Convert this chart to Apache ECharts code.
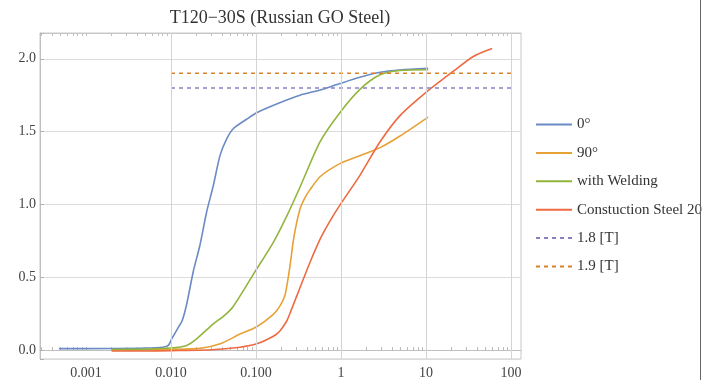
<!DOCTYPE html>
<html>
<head>
<meta charset="utf-8">
<script src="https://cdn.jsdelivr.net/npm/echarts@6/dist/echarts.min.js"></script>
<style>html,body{margin:0;padding:0;background:#fff;}#c{width:702px;height:380px;}</style>
</head>
<body>
<div id="c"></div>
<script>
const titleText = 'T120\u221230S (Russian GO Steel)';
const seriesNames = ['0°', '90°', 'with Welding', 'Constuction Steel 20', '1.8 [T]', '1.9 [T]'];

const blueX = [0.00048, 0.002, 0.005, 0.008, 0.0093, 0.0102, 0.0122, 0.0135, 0.0153, 0.0183, 0.0219, 0.0263, 0.0315, 0.0377, 0.0452, 0.054, 0.0776, 0.102, 0.175, 0.33, 0.566, 0.97, 1.67, 2.88, 4.94, 10.6];
const blueY = [0.010, 0.011, 0.014, 0.020, 0.032, 0.077, 0.156, 0.20, 0.315, 0.54, 0.72, 0.95, 1.13, 1.335, 1.45, 1.52, 1.585, 1.63, 1.69, 1.75, 1.785, 1.83, 1.873, 1.907, 1.923, 1.934];

const orangeX = [0.002, 0.005, 0.01, 0.022, 0.038, 0.065, 0.102, 0.16, 0.19, 0.22, 0.25, 0.28, 0.33, 0.38, 0.43, 0.566, 0.97, 1.67, 2.88, 4.94, 10.6];
const orangeY = [0.0, 0.002, 0.005, 0.012, 0.043, 0.11, 0.16, 0.245, 0.30, 0.38, 0.57, 0.78, 0.97, 1.05, 1.10, 1.19, 1.28, 1.335, 1.39, 1.47, 1.6];

const greenX = [0.002, 0.005, 0.01, 0.0153, 0.02, 0.0315, 0.042, 0.054, 0.093, 0.16, 0.23, 0.33, 0.566, 0.97, 1.67, 2.88, 4.94, 10.6];
const greenY = [0.004, 0.007, 0.014, 0.032, 0.077, 0.18, 0.235, 0.30, 0.52, 0.74, 0.92, 1.12, 1.43, 1.63, 1.79, 1.89, 1.92, 1.925];

const redX = [0.002, 0.005, 0.01, 0.03, 0.065, 0.102, 0.16, 0.19, 0.23, 0.25, 0.33, 0.43, 0.566, 0.75, 0.97, 1.67, 2.88, 4.94, 10, 21, 36, 60];
const redY = [-0.006, -0.006, -0.004, 0.002, 0.02, 0.043, 0.095, 0.13, 0.2, 0.25, 0.43, 0.60, 0.76, 0.89, 0.995, 1.2, 1.43, 1.61, 1.77, 1.915, 2.016, 2.07];

const refX = [0.01, 100];
const ref18 = [1.8, 1.8];
const ref19 = [1.9, 1.9];

const xTickValues = [0.001, 0.01, 0.1, 1, 10, 100];
const xTickLabels = ['0.001', '0.010', '0.100', '1', '10', '100'];
const xGridValues = [0.01, 0.1, 1, 10, 100];
const minorMultipliers = [2, 3, 4, 5, 6, 7, 8, 9];
const tickDecades = [0.0001, 0.001, 0.01, 0.1, 1, 10, 100];

const colors = ['#6A8BC4', '#E6A237', '#93B53E', '#EE6A42', '#8A80C4', '#D9822B'];

function pairs(xs, ys) { return xs.map((x, i) => [x, ys[i]]); }

const xMin = 0.000288, xMax = 131;
const allTicks = [];
tickDecades.forEach(d => {
  [1].concat(minorMultipliers).forEach(m => {
    const v = +(d * m).toPrecision(6);
    if (v > xMin && v < xMax) allTicks.push(v);
  });
});

const serif = '"Liberation Serif", "DejaVu Serif", serif';
const chart = echarts.init(document.getElementById('c'), null, { renderer: 'canvas' });

const lineSeries = (name, xs, ys, color, dashed) => ({
  name: name,
  type: 'line',
  data: pairs(xs, ys),
  showSymbol: false,
  symbol: 'none',
  smooth: dashed ? false : 0.25,
  animation: false,
  z: 3,
  lineStyle: { color: color, width: dashed ? 1.5 : 1.6, type: dashed ? [4, 4] : 'solid' },
  itemStyle: { color: color }
});

const labelFmt = function (v) {
  for (let i = 0; i < xTickValues.length; i++) {
    if (Math.abs(Math.log10(v) - Math.log10(xTickValues[i])) < 1e-6) return xTickLabels[i];
  }
  return '';
};

chart.setOption({
  animation: false,
  backgroundColor: '#fff',
  color: colors,
  grid: { left: 40, top: 33, width: 481, height: 329, show: true, borderColor: '#c8c8c8', borderWidth: 1, containLabel: false },
  xAxis: [{
    type: 'log',
    min: xMin,
    max: xMax,
    logBase: 10,
    axisLine: { show: true, lineStyle: { color: '#c0c0c0' } },
    axisTick: { show: true, inside: true, length: 3, customValues: allTicks, lineStyle: { color: '#b8b8b8' } },
    splitLine: { show: false },
    axisLabel: { margin: 7, color: '#444', fontFamily: serif, fontSize: 14, formatter: labelFmt }
  }, {
    type: 'log',
    position: 'top',
    min: xMin,
    max: xMax,
    logBase: 10,
    axisLine: { show: true, lineStyle: { color: '#c8c8c8' } },
    axisTick: { show: true, inside: true, length: 3, customValues: allTicks, lineStyle: { color: '#c0c0c0' } },
    splitLine: { show: false },
    axisLabel: { show: false }
  }],
  yAxis: {
    type: 'value',
    min: -0.061,
    max: 2.177,
    axisLine: { show: true, lineStyle: { color: '#c0c0c0' } },
    axisTick: { show: true, inside: true, length: 4, lineStyle: { color: '#b0b0b0' } },
    splitLine: { show: true, lineStyle: { color: '#dcdcdc', width: 1 } },
    axisLabel: {
      margin: 4,
      color: '#444',
      fontFamily: serif,
      fontSize: 14,
      formatter: function (v) {
        if (Math.abs(v * 2 - Math.round(v * 2)) > 1e-6) return '';
        return v.toFixed(1);
      }
    }
  },
  legend: {
    data: seriesNames,
    orient: 'vertical',
    left: 530,
    top: 112,
    itemWidth: 36,
    itemHeight: 14,
    itemGap: 13.4,
    itemStyle: { opacity: 0 },
    textStyle: { fontFamily: serif, fontSize: 15, color: '#333' }
  },
  graphic: [
    { type: 'text', x: 280, y: 18, style: { text: titleText, textAlign: 'center', textVerticalAlign: 'middle', fontFamily: serif, fontSize: 18, fill: '#333' } },
    { type: 'line', shape: { x1: 700.5, y1: 0, x2: 700.5, y2: 380 }, style: { stroke: '#666', lineWidth: 1 }, z: 100 }
  ],
  series: [
    lineSeries(seriesNames[0], blueX, blueY, colors[0], false),
    lineSeries(seriesNames[1], orangeX, orangeY, colors[1], false),
    lineSeries(seriesNames[2], greenX, greenY, colors[2], false),
    lineSeries(seriesNames[3], redX, redY, colors[3], false),
    lineSeries(seriesNames[4], refX, ref18, colors[4], true),
    lineSeries(seriesNames[5], refX, ref19, colors[5], true),
    {
      name: 'xgrid',
      type: 'line',
      data: [],
      z: 1,
      silent: true,
      markLine: {
        silent: true,
        symbol: 'none',
        animation: false,
        label: { show: false },
        lineStyle: { color: '#d4d4d4', type: 'solid', width: 1 },
        data: xGridValues.map(v => ({ xAxis: v }))
      }
    }
  ]
});
</script>
</body>
</html>
